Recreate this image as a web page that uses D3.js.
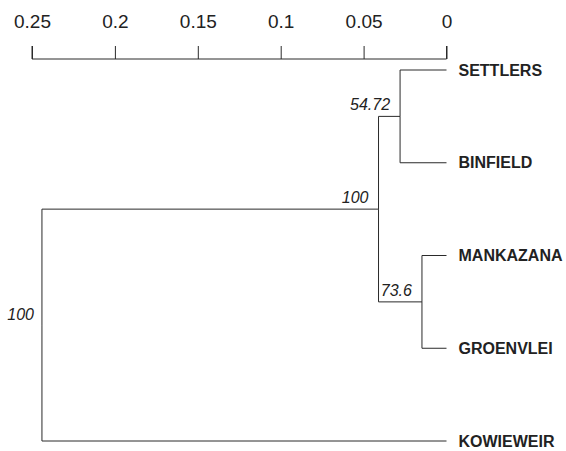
<!DOCTYPE html>
<html>
<head>
<meta charset="utf-8">
<script src="https://cdn.jsdelivr.net/npm/d3@7"></script>
<style>
  html, body { margin: 0; padding: 0; background: #fff; }
  svg { display: block; }
</style>
</head>
<body>
<svg id="chart" width="566" height="451"></svg>
<script>
// Leaf taxa, top to bottom
const leafNames = ["SETTLERS", "BINFIELD", "MANKAZANA", "GROENVLEI", "KOWIEWEIR"];
// Internal nodes: children (indices 0-4 are leaves, 5+ are merges in order), height, support
const mergeChildren = [[0, 1], [2, 3], [5, 6], [7, 4]];
const mergeHeights = [0.028, 0.0148, 0.041, 0.244];
const mergeSupport = ["54.72", "73.6", "100", "100"];
// Distance axis
const axisTicks = [0.25, 0.2, 0.15, 0.1, 0.05, 0];
const axisTickLabels = ["0.25", "0.2", "0.15", "0.1", "0.05", "0"];

const svg = d3.select("#chart");
const lineColor = "#2a2a2a";
const font = "'Liberation Sans', Arial, Helvetica, sans-serif";

// Build tree nodes
const nodes = leafNames.map((name, i) => ({ name, height: 0, leafIndex: i }));
mergeChildren.forEach((pair, i) => {
  nodes.push({ children: pair.map(k => nodes[k]), height: mergeHeights[i], support: mergeSupport[i] });
});
const root = d3.hierarchy(nodes[nodes.length - 1]);

const x = d3.scaleLinear().domain([0.25, 0]).range([32, 446.5]);
const y = d3.scalePoint().domain(leafNames).range([70, 441]);

// Vertical position: leaves by order, internal nodes at midpoint of children
root.eachAfter(d => {
  d.px = x(d.data.height);
  if (d.children) {
    d.py = (d.children[0].py + d.children[d.children.length - 1].py) / 2;
  } else {
    d.py = y(d.data.name);
  }
});

// Axis
const axisG = svg.append("g").attr("transform", "translate(0,59)");
axisG.call(d3.axisTop(x).tickValues(axisTicks).tickSize(13).tickPadding(18)
  .tickFormat((d, i) => axisTickLabels[i]))
  .call(g => g.select(".domain").attr("stroke", lineColor).attr("d", `M${x(0.25)},-13V0H${x(0)}V-13`))
  .call(g => g.selectAll(".tick line").attr("stroke", lineColor))
  .call(g => g.selectAll(".tick text").attr("fill", "#222").attr("font-size", 19).attr("font-family", font));

// Branches (elbow)
const links = svg.append("g").attr("fill", "none").attr("stroke", lineColor).attr("stroke-width", 1);
root.links().forEach(l => {
  links.append("path")
    .attr("d", `M${l.source.px},${l.source.py}V${l.target.py}H${l.target.px}`);
});

// Leaf labels
svg.append("g").selectAll("text")
  .data(root.leaves())
  .join("text")
  .attr("x", d => d.px + 12)
  .attr("y", d => d.py)
  .attr("dy", "0.35em")
  .attr("font-family", font)
  .attr("font-size", 16)
  .attr("font-weight", "bold")
  .attr("fill", "#222")
  .text(d => d.data.name);

// Support values on internal nodes
svg.append("g").selectAll("text")
  .data(root.descendants().filter(d => d.children))
  .join("text")
  .attr("x", d => d.parent ? d.px - 10 : d.px - 8)
  .attr("y", d => d.parent ? d.py - 6 : d.py - 5)
  .attr("text-anchor", "end")
  .attr("font-family", font)
  .attr("font-size", 16)
  .attr("font-style", "italic")
  .attr("fill", "#222")
  .text(d => d.data.support);
</script>
</body>
</html>
